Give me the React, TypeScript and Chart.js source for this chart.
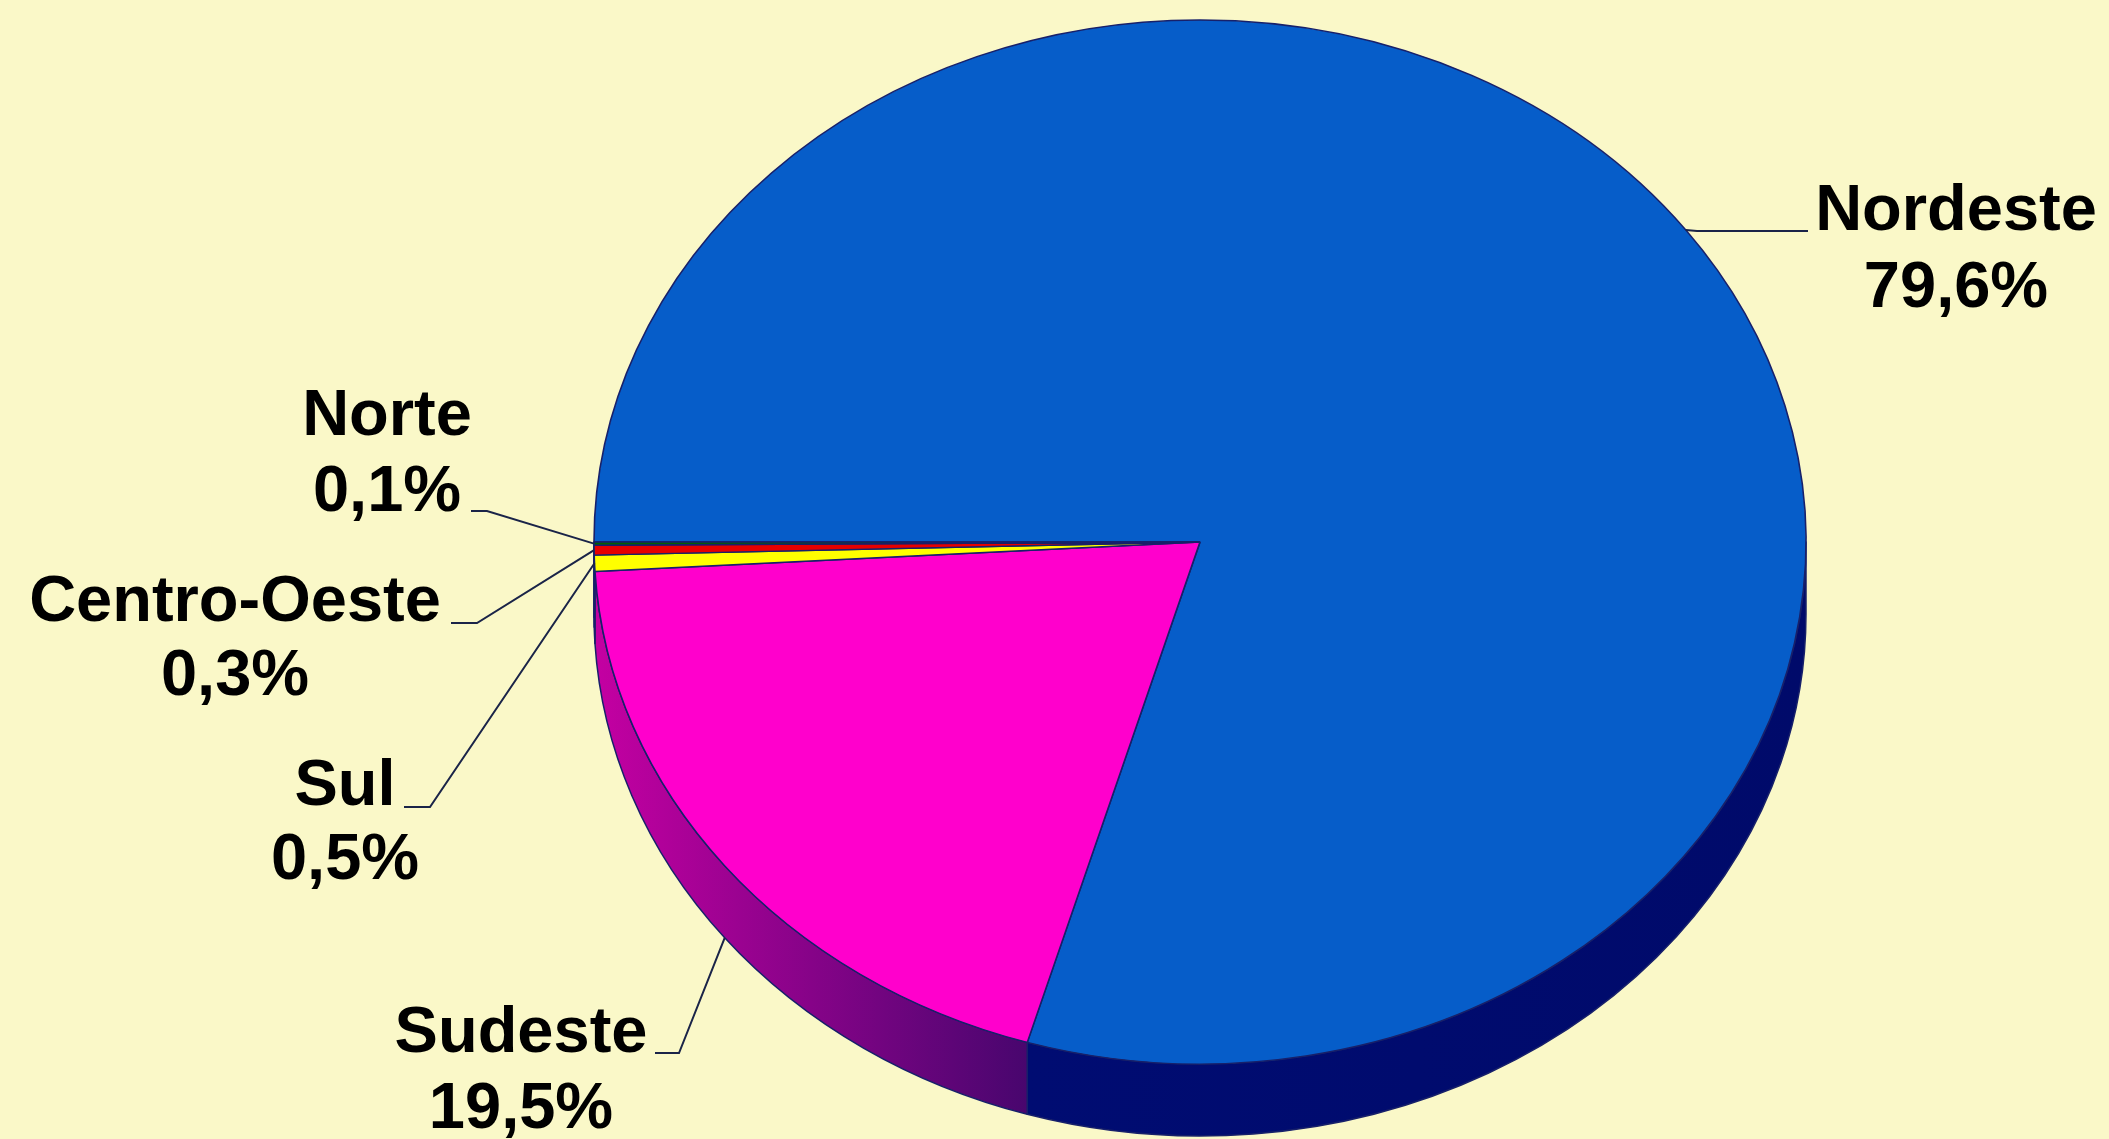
import React, { useEffect, useRef } from "react";
import { Chart, registerables } from "chart.js";

Chart.register(...registerables);

// ---- data ----
const categories = ["Nordeste", "Sudeste", "Sul", "Centro-Oeste", "Norte"];
const values = [79.6, 19.5, 0.5, 0.3, 0.1];

// ---- styles ----
const topColors = ["#065DC9", "#FF00CC", "#FFFF00", "#E60000", "#006000"];
const sideColors: [string, string][] = [
  ["#000C72", "#000A6A"],
  ["#C400A2", "#48066E"],
  ["#A0A000", "#909000"],
  ["#800000", "#700000"],
  ["#003000", "#003000"],
];
const BORDER = "#17206A";
const BG = "#FAF8C8";

// ---- layout ----
const W = 2109;
const H = 1139;
const TX = 1200; // ellipse centre
const TY = 542;
const RX = 606;
const RY = 522;
const DEPTH = 72;
const FONT = 'bold 65px "Liberation Sans", Arial, sans-serif';

// per-slice label layout: text centre x, line y's, leader anchor near text, elbow x, leader hits side wall?
const labelLayout = [
  { cx: 1956, y1: 212, y2: 289, ax: 1808, ay: 231, bx: 1697, side: false },
  { cx: 521, y1: 1034, y2: 1110, ax: 655, ay: 1053, bx: 679, side: true },
  { cx: 345, y1: 787, y2: 861, ax: 404, ay: 807, bx: 430, side: false },
  { cx: 235, y1: 603, y2: 677, ax: 451, ay: 623, bx: 477, side: false },
  { cx: 387, y1: 417, y2: 493, ax: 471, ay: 511, bx: 487, side: false },
];

const fmt = (v: number) => v.toFixed(1).replace(".", ",") + "%";

const pie3d = {
  id: "pie3d",
  beforeDatasetsDraw(chart: any) {
    const ctx = chart.ctx as CanvasRenderingContext2D;
    const meta = chart.getDatasetMeta(0);
    const first = meta.data[0];
    const { x, y, outerRadius } = first.getProps(["x", "y", "outerRadius"], true);

    // side walls (front half only)
    meta.data.forEach((arc: any, i: number) => {
      const { startAngle, endAngle } = arc.getProps(["startAngle", "endAngle"], true);
      for (const k of [-4, -2, 0, 2, 4]) {
        const lo = Math.max(startAngle, k * Math.PI);
        const hi = Math.min(endAngle, (k + 1) * Math.PI);
        if (hi <= lo) continue;
        const xa = TX + RX * Math.cos(lo);
        const xb = TX + RX * Math.cos(hi);
        const left = Math.min(xa, xb);
        const right = Math.max(xa, xb);
        const g = ctx.createLinearGradient(left, 0, right + 0.01, 0);
        g.addColorStop(0, sideColors[i][0]);
        g.addColorStop(1, sideColors[i][1]);
        ctx.save();
        ctx.beginPath();
        ctx.ellipse(TX, TY, RX, RY, 0, lo, hi, false);
        ctx.ellipse(TX, TY + DEPTH, RX, RY, 0, hi, lo, true);
        ctx.closePath();
        ctx.fillStyle = g;
        ctx.fill();
        ctx.strokeStyle = BORDER;
        ctx.lineWidth = 1.5;
        ctx.lineJoin = "round";
        ctx.stroke();
        ctx.restore();
      }
    });

    // transform the library's circle into the tilted ellipse
    ctx.save();
    ctx.translate(TX, TY);
    ctx.scale(RX / outerRadius, RY / outerRadius);
    ctx.translate(-x, -y);
  },
  afterDatasetsDraw(chart: any) {
    const ctx = chart.ctx as CanvasRenderingContext2D;
    ctx.restore();
    const meta = chart.getDatasetMeta(0);

    meta.data.forEach((arc: any, i: number) => {
      const L = labelLayout[i];
      const { startAngle, endAngle } = arc.getProps(["startAngle", "endAngle"], true);
      const mid = (startAngle + endAngle) / 2;
      const px = TX + RX * Math.cos(mid);
      const py = TY + RY * Math.sin(mid) + (L.side ? DEPTH : 0);

      ctx.save();
      ctx.strokeStyle = "#1A2448";
      ctx.lineWidth = 2;
      ctx.beginPath();
      ctx.moveTo(L.ax, L.ay);
      ctx.lineTo(L.bx, L.ay);
      ctx.lineTo(px, py);
      ctx.stroke();

      ctx.fillStyle = "#000000";
      ctx.font = FONT;
      ctx.textAlign = "center";
      ctx.textBaseline = "middle";
      ctx.fillText(categories[i], L.cx, L.y1);
      ctx.fillText(fmt(values[i]), L.cx, L.y2);
      ctx.restore();
    });
  },
};

export default function App() {
  const ref = useRef<HTMLCanvasElement | null>(null);

  useEffect(() => {
    if (!ref.current) return;
    const chart = new Chart(ref.current, {
      type: "pie",
      data: {
        labels: categories,
        datasets: [
          {
            data: values,
            backgroundColor: topColors,
            borderColor: BORDER,
            borderWidth: 1.5,
            clip: false,
          } as any,
        ],
      },
      options: {
        responsive: false,
        maintainAspectRatio: false,
        animation: false,
        devicePixelRatio: 1,
        rotation: -90,
        layout: { padding: 0 },
        plugins: {
          legend: { display: false },
          tooltip: { enabled: false },
        },
      } as any,
      plugins: [pie3d],
    });
    return () => chart.destroy();
  }, []);

  return (
    <div
      style={{
        position: "fixed",
        left: 0,
        top: 0,
        width: W,
        height: H,
        background: BG,
        overflow: "hidden",
      }}
    >
      <canvas ref={ref} width={W} height={H} style={{ display: "block", width: W, height: H }} />
    </div>
  );
}
